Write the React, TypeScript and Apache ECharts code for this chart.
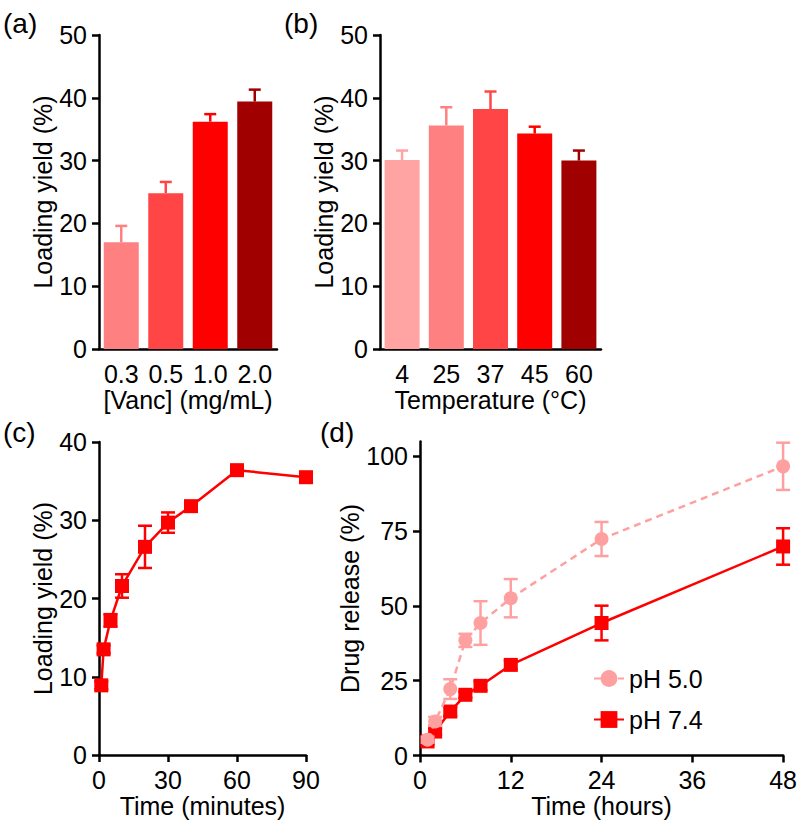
import React, { useEffect, useRef } from "react";
import * as echarts from "echarts";

const vancCats = ["0.3", "0.5", "1.0", "2.0"];
const vancYield = [17.0, 24.8, 36.2, 39.4];
const vancErr = [2.6, 1.8, 1.2, 1.9];
const vancColors = ["#FF8080", "#FF4545", "#FF0000", "#A00000"];

const tempCats = ["4", "25", "37", "45", "60"];
const tempYield = [30.1, 35.6, 38.2, 34.3, 30.0];
const tempErr = [1.5, 2.9, 2.8, 1.1, 1.6];
const tempColors = ["#FFA3A3", "#FF8080", "#FF4545", "#FF0000", "#A00000"];

const loadTime = [1, 2, 5, 10, 20, 30, 40, 60, 90];
const loadYield = [8.9, 13.5, 17.2, 21.6, 26.6, 29.7, 31.8, 36.4, 35.5];
const loadErr = [0.5, 0.5, 0.8, 1.5, 2.7, 1.3, 0.6, 0.5, 0.5];

const releaseTime = [1, 2, 4, 6, 8, 12, 24, 48];
const releasePH5 = [5.3, 11.4, 22.2, 38.5, 44.3, 52.6, 72.4, 96.7];
const releasePH5Err = [1, 1.5, 3.3, 2.2, 7.3, 6.4, 5.7, 7.9];
const releasePH74 = [4.7, 8.0, 14.7, 20.3, 23.3, 30.3, 44.3, 69.9];
const releasePH74Err = [1, 1, 1.5, 1, 1.5, 1.5, 5.8, 6.1];

const dTicks = [0, 25, 50, 75, 100];

const FONT = "'Liberation Sans', Arial, sans-serif";
const RED = "#FF0000";
const PINK = "#FFA0A0";

const axisLineStyle = { color: "#000", width: 2.5 };

function errRender(colors: string | string[], cap: number, both: boolean) {
  return (params: any, api: any) => {
    const x = api.value(0);
    const lo = api.value(1);
    const hi = api.value(2);
    const a = api.coord([x, lo]);
    const b = api.coord([x, hi]);
    const c = Array.isArray(colors) ? colors[params.dataIndex] : colors;
    const style = { stroke: c, lineWidth: 2.5, fill: null };
    const children: any[] = [
      { type: "line", shape: { x1: a[0], y1: a[1], x2: b[0], y2: b[1] }, style },
      { type: "line", shape: { x1: b[0] - cap / 2, y1: b[1], x2: b[0] + cap / 2, y2: b[1] }, style },
    ];
    if (both) {
      children.push({ type: "line", shape: { x1: a[0] - cap / 2, y1: a[1], x2: a[0] + cap / 2, y2: a[1] }, style });
    }
    return { type: "group", children };
  };
}

function xCat(gridIndex: number, data: string[], name: string) {
  return {
    type: "category",
    gridIndex,
    data,
    axisLine: { lineStyle: axisLineStyle },
    axisTick: { alignWithLabel: true, length: 7, lineStyle: axisLineStyle, interval: 0 },
    axisLabel: { fontSize: 25, color: "#000", margin: 12, fontFamily: FONT, interval: 0 },
    name,
    nameLocation: "middle",
    nameGap: 38,
    nameTextStyle: { fontSize: 25, color: "#000", fontFamily: FONT },
    splitLine: { show: false },
  };
}

function yVal(gridIndex: number, max: number, interval: number, name: string, nameGap: number, extra: any = {}) {
  return {
    type: "value",
    gridIndex,
    min: 0,
    max,
    interval,
    axisLine: { show: true, lineStyle: axisLineStyle },
    axisTick: { show: true, length: 7, lineStyle: axisLineStyle, ...(extra.tick || {}) },
    axisLabel: { fontSize: 25, color: "#000", margin: 12, fontFamily: FONT, ...(extra.label || {}) },
    splitLine: { show: false },
    name,
    nameLocation: "middle",
    nameGap,
    nameTextStyle: { fontSize: 25, color: "#000", fontFamily: FONT },
  };
}

function xVal(gridIndex: number, max: number, interval: number, name: string) {
  return {
    type: "value",
    gridIndex,
    min: 0,
    max,
    interval,
    axisLine: { show: true, onZero: false, lineStyle: axisLineStyle },
    axisTick: { show: true, length: 7, lineStyle: axisLineStyle },
    axisLabel: { fontSize: 25, color: "#000", margin: 12, fontFamily: FONT },
    splitLine: { show: false },
    name,
    nameLocation: "middle",
    nameGap: 38,
    nameTextStyle: { fontSize: 25, color: "#000", fontFamily: FONT },
  };
}

export default function App() {
  const ref = useRef<HTMLDivElement>(null);
  useEffect(() => {
    if (!ref.current) return;
    const chart = echarts.init(ref.current, undefined, { renderer: "svg" });
    const option: any = {
      animation: false,
      backgroundColor: "#fff",
      textStyle: { fontFamily: FONT },
      grid: [
        { left: 99, top: 35, width: 178, height: 314 },
        { left: 380, top: 35, width: 221, height: 314 },
        { left: 99, top: 442, width: 207, height: 313 },
        { left: 420, top: 441.5, width: 364, height: 314 },
      ],
      xAxis: [
        xCat(0, vancCats, "[Vanc] (mg/mL)"),
        xCat(1, tempCats, "Temperature (°C)"),
        xVal(2, 90, 30, "Time (minutes)"),
        xVal(3, 48, 12, "Time (hours)"),
      ],
      yAxis: [
        yVal(0, 50, 10, "Loading yield (%)", 44),
        yVal(1, 50, 10, "Loading yield (%)", 44),
        yVal(2, 40, 10, "Loading yield (%)", 44),
        yVal(3, 105, 25, "Drug release (%)", 47, {
          tick: { customValues: dTicks },
          label: { customValues: dTicks },
        }),
      ],
      legend: {
        data: ["pH 5.0", "pH 7.4"],
        orient: "vertical",
        left: 593,
        top: 666,
        padding: 0,
        itemWidth: 30,
        itemHeight: 21,
        itemGap: 16,
        textStyle: { fontSize: 25, color: "#000", fontFamily: FONT },
      },
      series: [
        {
          type: "bar",
          xAxisIndex: 0,
          yAxisIndex: 0,
          barWidth: 35,
          data: vancYield.map((v, i) => ({ value: v, itemStyle: { color: vancColors[i] } })),
        },
        {
          type: "custom",
          xAxisIndex: 0,
          yAxisIndex: 0,
          renderItem: errRender(vancColors, 12, false),
          data: vancYield.map((v, i) => [i, v, v + vancErr[i]]),
          z: 1,
        },
        {
          type: "bar",
          xAxisIndex: 1,
          yAxisIndex: 1,
          barWidth: 35,
          data: tempYield.map((v, i) => ({ value: v, itemStyle: { color: tempColors[i] } })),
        },
        {
          type: "custom",
          xAxisIndex: 1,
          yAxisIndex: 1,
          renderItem: errRender(tempColors, 12, false),
          data: tempYield.map((v, i) => [i, v, v + tempErr[i]]),
          z: 1,
        },
        {
          type: "custom",
          xAxisIndex: 2,
          yAxisIndex: 2,
          renderItem: errRender(RED, 14, true),
          data: loadTime.map((t, i) => [t, loadYield[i] - loadErr[i], loadYield[i] + loadErr[i]]),
          z: 1,
        },
        {
          type: "line",
          xAxisIndex: 2,
          yAxisIndex: 2,
          data: loadTime.map((t, i) => [t, loadYield[i]]),
          symbol: "rect",
          symbolSize: 14,
          lineStyle: { color: RED, width: 2.5 },
          itemStyle: { color: RED },
          z: 3,
        },
        {
          type: "custom",
          xAxisIndex: 3,
          yAxisIndex: 3,
          renderItem: errRender(RED, 14, true),
          data: releaseTime.map((t, i) => [t, releasePH74[i] - releasePH74Err[i], releasePH74[i] + releasePH74Err[i]]),
          z: 1,
        },
        {
          name: "pH 7.4",
          type: "line",
          xAxisIndex: 3,
          yAxisIndex: 3,
          data: releaseTime.map((t, i) => [t, releasePH74[i]]),
          symbol: "rect",
          symbolSize: 14,
          lineStyle: { color: RED, width: 2.5 },
          itemStyle: { color: RED },
          z: 3,
        },
        {
          type: "custom",
          xAxisIndex: 3,
          yAxisIndex: 3,
          renderItem: errRender(PINK, 14, true),
          data: releaseTime.map((t, i) => [t, releasePH5[i] - releasePH5Err[i], releasePH5[i] + releasePH5Err[i]]),
          z: 4,
        },
        {
          name: "pH 5.0",
          type: "line",
          xAxisIndex: 3,
          yAxisIndex: 3,
          data: releaseTime.map((t, i) => [t, releasePH5[i]]),
          symbol: "circle",
          symbolSize: 14,
          lineStyle: { color: PINK, width: 2.5, type: [7, 5] },
          itemStyle: { color: PINK },
          z: 5,
        },
      ],
      graphic: [
        { type: "text", left: 3, top: 9, style: { text: "(a)", fontSize: 28, fill: "#000", fontFamily: FONT } },
        { type: "text", left: 284, top: 9, style: { text: "(b)", fontSize: 28, fill: "#000", fontFamily: FONT } },
        { type: "text", left: 3, top: 418, style: { text: "(c)", fontSize: 28, fill: "#000", fontFamily: FONT } },
        { type: "text", left: 320, top: 418, style: { text: "(d)", fontSize: 28, fill: "#000", fontFamily: FONT } },
      ],
    };
    chart.setOption(option);
    return () => chart.dispose();
  }, []);
  return (
    <div
      ref={ref}
      style={{ position: "absolute", left: 0, top: 0, width: 800, height: 822, background: "#fff" }}
    />
  );
}
